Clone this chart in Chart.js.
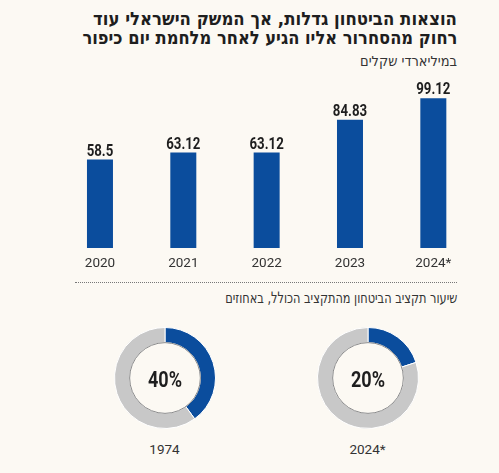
<!DOCTYPE html>
<html lang="he">
<head>
<meta charset="utf-8">
<script src="https://cdn.jsdelivr.net/npm/chart.js@4.4.1/dist/chart.umd.min.js"></script>
<style>
  html, body { margin: 0; padding: 0; }
  body {
    width: 499px; height: 473px; position: relative; overflow: hidden;
    background: #fcf9f3;
    font-family: "DejaVu Sans Condensed", sans-serif;
    color: #222;
  }
  .line {
    position: absolute; right: 42px; white-space: nowrap;
    direction: rtl; transform-origin: right top;
  }
  .title { font-weight: bold; font-size: 18.5px; color: #1e1e1e; }
  .sep {
    position: absolute; left: 75px; width: 382px; top: 282px;
    border-top: 1px dotted #777;
  }
  .box { position: absolute; }
  .lbl {
    position: absolute; width: 80px; text-align: center;
    font-family: Roboto, sans-serif; font-size: 13.5px; color: #333; top: 441px;
  }
</style>
</head>
<body>
<div class="line title" data-w="364" style="top:8px">הוצאות הביטחון גדלות, אך המשק הישראלי עוד</div>
<div class="line title" data-w="375" style="top:27px">רחוק מהסחרור אליו הגיע לאחר מלחמת יום כיפור</div>
<div class="line" data-w="97" style="top:53px;font-size:14px;color:#333">במיליארדי שקלים</div>

<div class="box" style="left:0;top:60px;width:499px;height:220px"><canvas id="bars"></canvas></div>

<div class="sep"></div>
<div class="line" data-w="232" style="top:289px;font-size:15.5px;color:#333">שיעור תקציב הביטחון מהתקציב הכולל, באחוזים</div>

<div class="box" style="left:113.5px;top:327px;width:102px;height:102px"><canvas id="d0"></canvas></div>
<div class="box" style="left:316.5px;top:327px;width:102px;height:102px"><canvas id="d1"></canvas></div>
<div class="lbl" id="l0" style="left:124.5px"></div>
<div class="lbl" id="l1" style="left:327.5px"></div>

<script>
const years = ["2020", "2021", "2022", "2023", "2024*"];
const spending = [58.5, 63.12, 63.12, 84.83, 99.12];

const shareYears = ["1974", "2024*"];
const shareValues = [40, 20];

const BLUE = "#0b4d9d";
const GREY = "#c8c8c8";
const NUM_FONT = "Roboto, sans-serif";

/* ================= TEXT WIDTHS ================= */
// squeeze each text line to the width it has in the print graphic
document.querySelectorAll(".line").forEach(el => {
  const w = el.getBoundingClientRect().width;
  el.style.transform = "scaleX(" + (el.dataset.w / w) + ")";
});

// condensed canvas text
function narrowText(ctx, text, x, y, sx) {
  ctx.save();
  ctx.translate(x, y);
  ctx.scale(sx, 1);
  ctx.fillText(text, 0, 0);
  ctx.restore();
}

/* ================= BAR CHART ================= */
const valueLabels = {
  id: "valueLabels",
  afterDatasetsDraw(chart) {
    const ctx = chart.ctx;
    const meta = chart.getDatasetMeta(0);
    ctx.save();
    ctx.font = "bold 17px " + NUM_FONT;
    ctx.fillStyle = "#1e1e1e";
    ctx.textAlign = "center";
    ctx.textBaseline = "alphabetic";
    meta.data.forEach((bar, i) => {
      narrowText(ctx, String(spending[i]), bar.x, bar.y - 4, 0.78);
    });
    ctx.restore();
  }
};

new Chart(document.getElementById("bars"), {
  type: "bar",
  data: {
    labels: years,
    datasets: [{
      data: spending,
      backgroundColor: BLUE,
      categoryPercentage: 1,
      barPercentage: 0.312
    }]
  },
  options: {
    responsive: true,
    maintainAspectRatio: false,
    animation: false,
    layout: { padding: { left: 58.3, right: 24, top: 21.7, bottom: 6 } },
    plugins: { legend: { display: false }, tooltip: { enabled: false } },
    scales: {
      x: {
        grid: { display: false, drawTicks: false },
        border: { display: false },
        ticks: { color: "#333", padding: 8, font: { family: NUM_FONT, size: 13.5 } },
        afterFit: s => { s.height = 26; }
      },
      y: { display: false, min: 0, max: 110 }
    }
  },
  plugins: [valueLabels]
});

/* ================= DONUTS ================= */
const centerText = {
  id: "centerText",
  afterDraw(chart) {
    const ctx = chart.ctx;
    const arc = chart.getDatasetMeta(0).data[0];
    ctx.save();
    // thin outline round the hole
    ctx.beginPath();
    ctx.arc(arc.x, arc.y, arc.innerRadius, 0, Math.PI * 2);
    ctx.strokeStyle = "#8a8a8a";
    ctx.lineWidth = 1;
    ctx.stroke();
    ctx.font = "bold 22px " + NUM_FONT;
    ctx.fillStyle = "#1e1e1e";
    ctx.textAlign = "center";
    ctx.textBaseline = "alphabetic";
    narrowText(ctx, chart.data.datasets[0].data[0] + "%", arc.x, arc.y + 8.5, 0.82);
    ctx.restore();
  }
};

shareValues.forEach((v, i) => {
  document.getElementById("l" + i).textContent = shareYears[i];
  new Chart(document.getElementById("d" + i), {
    type: "doughnut",
    data: {
      labels: ["ביטחון", "אחר"],
      datasets: [{
        data: [v, 100 - v],
        backgroundColor: [BLUE, GREY],
        borderColor: "#ffffff",
        borderWidth: 1
      }]
    },
    options: {
      responsive: true,
      maintainAspectRatio: false,
      animation: false,
      cutout: "70%",
      plugins: { legend: { display: false }, tooltip: { enabled: false } }
    },
    plugins: [centerText]
  });
});
</script>
</body>
</html>
